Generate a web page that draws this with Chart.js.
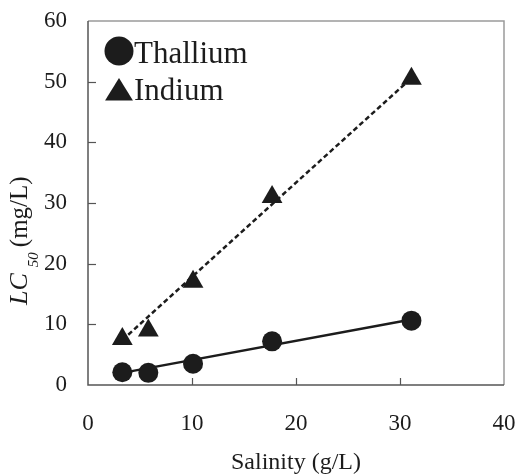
<!DOCTYPE html>
<html>
<head>
<meta charset="utf-8">
<script src="https://cdn.jsdelivr.net/npm/chart.js@4.4.1/dist/chart.umd.min.js"></script>
<style>
  html, body { margin: 0; padding: 0; background: #fff; }
  #wrap { width: 518px; height: 475px; }
</style>
</head>
<body>
<div id="wrap"><canvas id="chart" width="518" height="475"></canvas></div>
<script>
// salinity (g/L) of each test and the LC50 (mg/L) found there
const salinity = [3.3, 5.8, 10.1, 17.7, 31.1];
const thallium = [2.1, 2.0, 3.5, 7.2, 10.6];
const indium = [7.6, 9.0, 17.0, 31.0, 50.5];

// end points of the fitted lines
const fitX = [3.3, 31.1];
const thalliumFit = [2.0, 10.8];
const indiumFit = [7.4, 50.6];

const xTicks = [0, 10, 20, 30, 40];
const yTicks = [0, 10, 20, 30, 40, 50, 60];

const SERIF = "'Liberation Serif', 'Times New Roman', serif";
const INK = "#1c1c1c";

const pts = (xs, ys) => xs.map((x, i) => ({ x, y: ys[i] }));

// box round the plot + short inward tick marks
const frame = {
  id: "frame",
  beforeDatasetsDraw(chart) {
    const { ctx, chartArea: a, scales } = chart;
    ctx.save();
    ctx.lineWidth = 1.5;
    ctx.strokeStyle = "#9a9a9a";
    ctx.beginPath();
    ctx.moveTo(a.left, a.top); ctx.lineTo(a.right, a.top); ctx.lineTo(a.right, a.bottom);
    ctx.stroke();
    ctx.strokeStyle = "#555";
    ctx.beginPath();
    ctx.moveTo(a.left, a.top); ctx.lineTo(a.left, a.bottom); ctx.lineTo(a.right, a.bottom);
    ctx.stroke();
    ctx.lineWidth = 1.2;
    yTicks.slice(1, -1).forEach(v => {
      const y = Math.round(scales.y.getPixelForValue(v)) + 0.5;
      ctx.beginPath(); ctx.moveTo(a.left, y); ctx.lineTo(a.left + 8, y); ctx.stroke();
    });
    xTicks.slice(1, -1).forEach(v => {
      const x = Math.round(scales.x.getPixelForValue(v)) + 0.5;
      ctx.beginPath(); ctx.moveTo(x, a.bottom); ctx.lineTo(x, a.bottom - 7); ctx.stroke();
    });
    ctx.restore();
  },
};

// y title with italic LC and subscript 50
const yTitle = {
  id: "yTitle",
  afterDraw(chart) {
    const ctx = chart.ctx;
    ctx.save();
    ctx.translate(27, 305);
    ctx.rotate(-Math.PI / 2);
    ctx.fillStyle = INK;
    ctx.textBaseline = "alphabetic";
    ctx.font = "italic 26px " + SERIF;
    ctx.fillText("LC", 0, 0);
    let w = ctx.measureText("LC").width + 6;
    ctx.font = "italic 15px " + SERIF;
    ctx.fillText("50", w, 11);
    w += ctx.measureText("50").width + 5;
    ctx.font = "25px " + SERIF;
    ctx.fillText("(mg/L)", w, 0);
    ctx.restore();
  },
};

// legend in the top-left corner, marker right against the label
const legendBox = {
  id: "legendBox",
  afterDraw(chart) {
    const ctx = chart.ctx;
    const sets = chart.data.datasets.slice(0, 2);
    const rows = [{ cx: 119, cy: 51, base: 63 }, { cx: 119, cy: 93, base: 100 }];
    ctx.save();
    ctx.fillStyle = INK;
    ctx.font = "31px " + SERIF;
    sets.forEach((ds, i) => {
      const r = rows[i];
      ctx.beginPath();
      if (ds.pointStyle === "circle") {
        ctx.arc(r.cx, r.cy, 14.5, 0, Math.PI * 2);
      } else {
        const s = 15;
        ctx.moveTo(r.cx, r.cy - s);
        ctx.lineTo(r.cx + s * 0.93, r.cy + s * 0.5);
        ctx.lineTo(r.cx - s * 0.93, r.cy + s * 0.5);
        ctx.closePath();
      }
      ctx.fill();
      ctx.fillText(ds.label, 134, r.base);
    });
    ctx.restore();
  },
};

new Chart(document.getElementById("chart"), {
  type: "scatter",
  data: {
    datasets: [
      {
        label: "Thallium",
        data: pts(salinity, thallium),
        pointStyle: "circle",
        pointRadius: 10,
        pointBackgroundColor: INK,
        pointBorderWidth: 0,
        order: 0,
      },
      {
        label: "Indium",
        data: pts(salinity, indium),
        pointStyle: "triangle",
        pointRadius: 12,
        pointBackgroundColor: INK,
        pointBorderWidth: 0,
        order: 0,
      },
      {
        label: "Thallium fit",
        data: pts(fitX, thalliumFit),
        showLine: true,
        pointRadius: 0,
        borderColor: INK,
        borderWidth: 2.5,
        order: 1,
      },
      {
        label: "Indium fit",
        data: pts(fitX, indiumFit),
        showLine: true,
        pointRadius: 0,
        borderColor: INK,
        borderWidth: 2.5,
        borderDash: [5, 3],
        order: 1,
      },
    ],
  },
  options: {
    responsive: false,
    animation: false,
    layout: { padding: { left: 0, right: 14, top: 21, bottom: 0 } },
    plugins: {
      legend: { display: false },
      tooltip: { enabled: false },
    },
    scales: {
      x: {
        type: "linear",
        min: 0,
        max: 40,
        afterBuildTicks: (s) => { s.ticks = xTicks.map(v => ({ value: v })); },
        afterFit: (s) => { s.height = 90; s.paddingLeft = 0; s.paddingRight = 0; },
        ticks: { color: INK, font: { family: SERIF, size: 23 }, padding: 17, maxRotation: 0 },
        grid: { display: false },
        border: { display: false },
        title: {
          display: true,
          text: "Salinity (g/L)",
          color: INK,
          font: { family: SERIF, size: 24 },
          padding: { top: 0, bottom: -2 },
        },
      },
      y: {
        min: 0,
        max: 60,
        afterBuildTicks: (s) => { s.ticks = yTicks.map(v => ({ value: v })); },
        afterFit: (s) => { s.width = 88; s.paddingTop = 0; s.paddingBottom = 0; },
        ticks: { color: INK, font: { family: SERIF, size: 23 }, padding: 13 },
        grid: { display: false },
        border: { display: false },
      },
    },
  },
  plugins: [frame, yTitle, legendBox],
});
</script>
</body>
</html>
